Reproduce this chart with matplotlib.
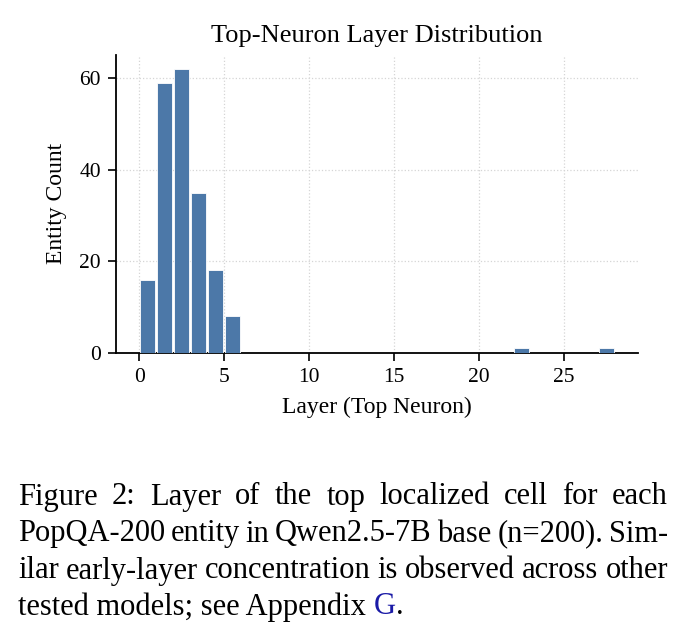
import numpy as np
import matplotlib
matplotlib.use("Agg")
from matplotlib import pyplot as plt

plt.rcParams['font.family'] = ['Liberation Serif', 'DejaVu Serif']

# top-neuron layer per entity (counts)
layers = [0, 1, 2, 3, 4, 5, 22, 27]
counts = [16, 59, 62, 35, 18, 8, 1, 1]
bar_color = '#4C78A8'

caption_lines = [
    "Figure 2:  Layer of the top localized cell for each",
    "PopQA-200 entity in Qwen2.5-7B base (n=200). Sim-",
    "ilar early-layer concentration is observed across other",
    "tested models; see Appendix",
]

fig = plt.figure(figsize=(6.87, 6.38), dpi=100)
ax = fig.add_axes([0.169, 0.447, 0.760, 0.467])

ax.hist(layers, bins=np.arange(0, 29), weights=counts, rwidth=0.92,
        color=bar_color, edgecolor='white', linewidth=0.6, zorder=3)

ax.set_xticks([0, 5, 10, 15, 20, 25])
ax.set_yticks([0, 20, 40, 60])
ax.tick_params(labelsize=15.5, length=6, width=1.2, pad=5)
ax.set_title('Top-Neuron Layer Distribution', fontsize=19, pad=9)
ax.set_xlabel('Layer (Top Neuron)', fontsize=17, labelpad=7)
ax.set_ylabel('Entity Count', fontsize=17, labelpad=9)
ax.grid(True, linestyle=':', color='#d5d5d5', linewidth=0.9, zorder=0)
ax.set_axisbelow(True)
for s in ['top', 'right']:
    ax.spines[s].set_visible(False)
for s in ['left', 'bottom']:
    ax.spines[s].set_linewidth(1.3)

# justified caption
fig.canvas.draw()
r = fig.canvas.get_renderer()
W = fig.bbox.width
fs = 22


def width_of(s):
    t = fig.text(0, 0, s, fontsize=fs)
    w = t.get_window_extent(r).width / W
    t.remove()
    return w


x0, x1 = 18 / 687, 668 / 687
ys = [1 - 497 / 638, 1 - 534 / 638, 1 - 571 / 638, 1 - 607 / 638]
for i, line in enumerate(caption_lines):
    words = [w for w in line.split(' ') if w != '']
    if i < len(caption_lines) - 1:
        widths = [width_of(w) for w in words]
        gap = (x1 - x0 - sum(widths)) / (len(words) - 1)
        x = x0
        for w, wd in zip(words, widths):
            fig.text(x, ys[i], w, fontsize=fs, va='center')
            x += wd + gap
    else:
        fig.text(x0, ys[i], line, fontsize=fs, va='center')
        xg = x0 + width_of(line + ' G') - width_of('G')
        fig.text(xg, ys[i], 'G', fontsize=fs, va='center', color='#1a1aa6')
        fig.text(xg + width_of('G'), ys[i], '.', fontsize=fs, va='center')

fig.savefig('out.png', dpi=100)
